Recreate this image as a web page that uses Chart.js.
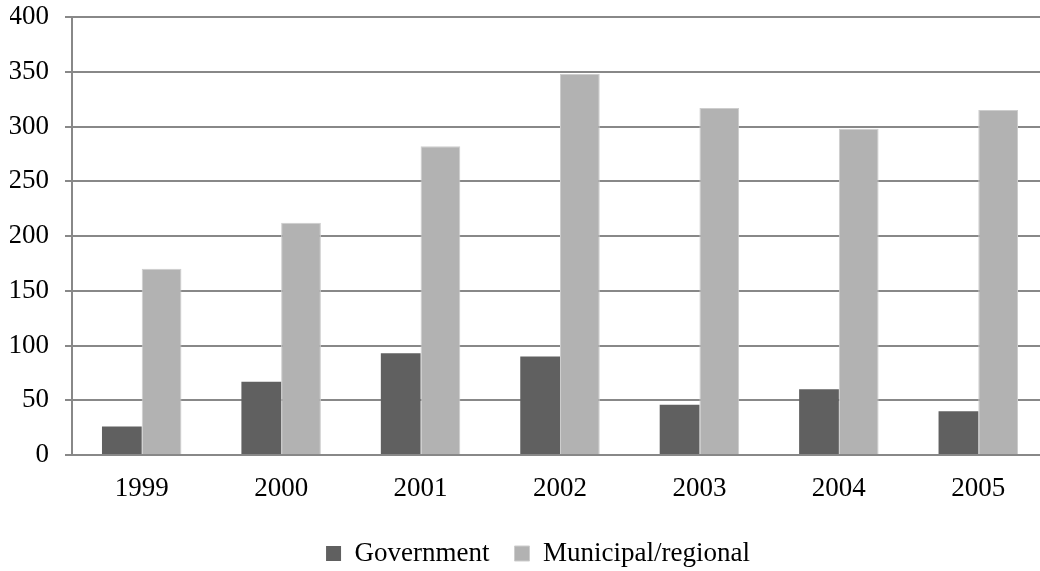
<!DOCTYPE html>
<html>
<head>
<meta charset="utf-8">
<script src="https://cdn.jsdelivr.net/npm/chart.js@4/dist/chart.umd.min.js"></script>
<style>
  html, body { margin: 0; padding: 0; background: #fff; overflow: hidden; }
  #wrap { width: 1040px; height: 571px; overflow: hidden; }
  canvas { display: block; }
</style>
</head>
<body>
<div id="wrap"><canvas id="c" width="1048" height="571"></canvas></div>
<script>
const categories = ['1999', '2000', '2001', '2002', '2003', '2004', '2005'];
const governmentValues = [26, 67, 93, 90, 46, 60, 40];
const municipalValues = [170, 212, 282, 348, 317, 298, 315];
const yTicks = [0, 50, 100, 150, 200, 250, 300, 350, 400];
const seriesNames = ['Government', 'Municipal/regional'];

const FONT = '"Liberation Serif", "Times New Roman", serif';
const FONT_SIZE = 27;

// shift the centred legend slightly to the right, as in the reference
const legendShift = {
  id: 'legendShift',
  afterLayout(chart) {
    const lg = chart.legend;
    if (lg) { lg.left += 9; lg.right += 9; }
  }
};

new Chart(document.getElementById('c'), {
  type: 'bar',
  data: {
    labels: categories,
    datasets: [
      {
        label: seriesNames[0],
        data: governmentValues,
        backgroundColor: '#606060',
        borderWidth: 0,
        categoryPercentage: 0.57,
        barPercentage: 1.0
      },
      {
        label: seriesNames[1],
        data: municipalValues,
        backgroundColor: '#b2b2b2',
        borderColor: '#cdcdcd',
        borderWidth: 1,
        categoryPercentage: 0.57,
        barPercentage: 1.0
      }
    ]
  },
  options: {
    responsive: false,
    animation: false,
    devicePixelRatio: 1,
    layout: { padding: { top: 17, right: 0, left: 10, bottom: -6 } },
    plugins: {
      tooltip: { enabled: false },
      legend: {
        position: 'bottom',
        labels: {
          font: { family: FONT, size: FONT_SIZE },
          color: '#000',
          boxWidth: 15,
          boxHeight: 15,
          padding: 25
        }
      }
    },
    scales: {
      x: {
        grid: { display: false, drawTicks: false },
        border: { display: true, color: '#888888', width: 2 },
        ticks: { font: { family: FONT, size: FONT_SIZE }, color: '#000', padding: 18, maxRotation: 0 },
        afterFit: (s) => { s.height = 60; }
      },
      y: {
        min: 0,
        max: 400,
        afterBuildTicks: (axis) => { axis.ticks = yTicks.map(v => ({ value: v })); },
        grid: { color: '#888888', lineWidth: 2, tickLength: 7, drawTicks: true },
        border: { display: true, color: '#888888', width: 2 },
        ticks: { font: { family: FONT, size: FONT_SIZE }, color: '#000', padding: 16 },
        afterFit: (s) => { s.width = 62; s.paddingTop = 0; s.paddingBottom = 0; }
      }
    }
  },
  plugins: [legendShift]
});
</script>
</body>
</html>
